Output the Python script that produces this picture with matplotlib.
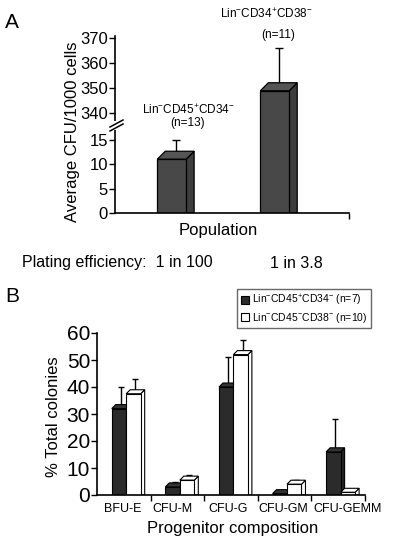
import numpy as np
import matplotlib
matplotlib.use("Agg")
import matplotlib.pyplot as plt
from matplotlib.patches import Polygon, Patch, Rectangle
from matplotlib.lines import Line2D

plt.rcParams['font.family'] = ['Liberation Sans', 'DejaVu Sans']
plt.rcParams['mathtext.fontset'] = 'custom'
plt.rcParams['mathtext.rm'] = 'Liberation Sans'
plt.rcParams['mathtext.it'] = 'Liberation Sans'
plt.rcParams['mathtext.bf'] = 'Liberation Sans'

# ---------------- data ----------------
# Panel A
pop_labels = [r'Lin$^{-}$CD45$^{+}$CD34$^{-}$', r'Lin$^{-}$CD34$^{+}$CD38$^{-}$']
pop_n = ['(n=13)', '(n=11)']
pop_values = [11, 349]
pop_err = [4, 17]
plating = ['1 in 100', '1 in 3.8']
a_low_ticks = [0, 5, 10, 15]
a_high_ticks = [340, 350, 360, 370]

# Panel B
categories = ['BFU-E', 'CFU-M', 'CFU-G', 'CFU-GM', 'CFU-GEMM']
series_names = [r'Lin$^{-}$CD45$^{+}$CD34$^{-}$ (n=7)', r'Lin$^{-}$CD45$^{-}$CD38$^{-}$ (n=10)']
dark_values = [32, 3, 40, 0.5, 16]
dark_err = [8, 2, 11, 0, 12]
white_values = [37.5, 5.5, 52, 4, 1]
white_err = [5.5, 2, 5.5, 1.5, 0.5]
b_ticks = [0, 10, 20, 30, 40, 50, 60]

W, H = 400, 553
fig = plt.figure(figsize=(W / 100, H / 100), dpi=100)


def rect(l, t, r, b):
    return [l / W, 1 - b / H, (r - l) / W, (b - t) / H]


def shift(ax, x, y, dx, dy):
    p = ax.transData.transform((x, y))
    return ax.transData.inverted().transform(p + np.array([dx, dy]))


def bar3d(ax, xc, h, w, d, fc, sc, tc, ec='black', lw=0.8, z=2):
    x0, x1 = xc - w / 2, xc + w / 2
    front = [(x0, 0), (x1, 0), (x1, h), (x0, h)]
    side = [(x1, 0), (x1, h), tuple(shift(ax, x1, h, d, d)), tuple(shift(ax, x1, 0, d, 0))]
    top = [(x0, h), (x1, h), tuple(shift(ax, x1, h, d, d)), tuple(shift(ax, x0, h, d, d))]
    for verts, c in ((side, sc), (top, tc), (front, fc)):
        ax.add_patch(Polygon(verts, closed=True, facecolor=c, edgecolor=ec,
                             linewidth=lw, joinstyle='miter', zorder=z))


def errup(ax, xc, h, err, d, capw=3, lw=1.0):
    if err <= 0:
        return
    sx, sy = shift(ax, xc, h, d / 2, d / 2)
    sy = min(sy, h + err)
    ax.errorbar([sx], [sy], yerr=[[0], [max(h + err - sy, 0)]], fmt='none', ecolor='black',
                elinewidth=lw, capsize=capw, capthick=lw, zorder=1)


# ---------------- Panel A ----------------
axL = fig.add_axes(rect(115, 126, 349, 213))
axU = fig.add_axes(rect(115, 36, 349, 126))
xpos = [1, 2]
for ax in (axL, axU):
    ax.set_xlim(0.45, 2.72)
    ax.patch.set_visible(False)
    for s in ('top', 'right'):
        ax.spines[s].set_visible(False)
    ax.spines['left'].set_linewidth(1.2)
    ax.spines['bottom'].set_linewidth(1.2)
    ax.tick_params(axis='y', direction='out', length=4, width=1.0, labelsize=12, pad=1)
axL.set_ylim(0, 17.8)
axU.set_ylim(334.9, 370.9)
axL.set_yticks(a_low_ticks)
axU.set_yticks(a_high_ticks)
axU.spines['bottom'].set_visible(False)
axU.set_xticks([])
axL.set_xticks([2.72])
axL.set_xticklabels([])
axL.tick_params(axis='x', direction='out', length=4, width=1.0)

depthA = 8
for ax in (axL, axU):
    for x, v, e in zip(xpos, pop_values, pop_err):
        bar3d(ax, x, v, 0.28, depthA, '#484848', '#3e3e3e', '#555555', lw=0.9)
        errup(ax, x, v, e, depthA)

fig.text(188 / W, 1 - 110 / H, pop_labels[0], ha='center', va='center', fontsize=8.5)
fig.text(188 / W, 1 - 123 / H, pop_n[0], ha='center', va='center', fontsize=8.5)
fig.text(266 / W, 1 - 14 / H, pop_labels[1], ha='center', va='center', fontsize=8.5)
fig.text(278 / W, 1 - 35 / H, pop_n[1], ha='center', va='center', fontsize=8.5)

fig.text(73 / W, 1 - 132 / H, 'Average CFU/1000 cells', rotation=90, ha='center',
         va='center', fontsize=12)
fig.text(218 / W, 1 - 231 / H, 'Population', ha='center', va='center', fontsize=12)
fig.text(22 / W, 1 - 263 / H, 'Plating efficiency:  ' + plating[0], ha='left',
         va='center', fontsize=11.5)
fig.text(270 / W, 1 - 263 / H, plating[1], ha='left', va='center', fontsize=11.5)
fig.text(5 / W, 1 - 23 / H, 'A', ha='left', va='center', fontsize=15)

# gap in the y spine and break marks
fig.add_artist(Rectangle((112 / W, 1 - 130 / H), 6 / W, 9 / H, facecolor='white',
                         edgecolor='none', zorder=5))
for off in (0, 4):
    fig.add_artist(Line2D([110 / W, 123 / W], [1 - (131 - off) / H, 1 - (124 - off) / H],
                          color='black', linewidth=1.1, zorder=6))

# ---------------- Panel B ----------------
axB = fig.add_axes(rect(97, 333, 365, 495))
axB.set_xlim(0, 5)
axB.set_ylim(0, 60)
for s in ('top', 'right'):
    axB.spines[s].set_visible(False)
axB.spines['left'].set_linewidth(1.2)
axB.spines['bottom'].set_linewidth(1.2)
axB.set_yticks(b_ticks)
axB.tick_params(axis='y', direction='out', length=4, width=1.0, labelsize=15, pad=1)
axB.set_xticks([1, 2, 3, 4, 5])
axB.set_xticklabels([])
axB.tick_params(axis='x', which='major', direction='out', length=4, width=1.0)
axB.set_xticks([0.48, 1.4, 2.45, 3.47, 4.68], minor=True)
axB.set_xticklabels(categories, minor=True, fontsize=9)
axB.tick_params(axis='x', which='minor', length=0, pad=6)

depthB = 4
wB = 0.27
for i in range(len(categories)):
    xd = i + 0.41
    xw = i + 0.68
    bar3d(axB, xd, dark_values[i], wB, depthB, '#2b2b2b', '#222222', '#333333', lw=0.8)
    errup(axB, xd, dark_values[i], dark_err[i], depthB, capw=2.5)
    bar3d(axB, xw, white_values[i], wB, depthB, 'white', 'white', 'white', lw=0.8)
    errup(axB, xw, white_values[i], white_err[i], depthB, capw=2.5)

fig.text(53 / W, 1 - 417 / H, '% Total colonies', rotation=90, ha='center', va='center',
         fontsize=12)
fig.text(233 / W, 1 - 528 / H, 'Progenitor composition', ha='center', va='center',
         fontsize=12)
fig.text(5 / W, 1 - 296 / H, 'B', ha='left', va='center', fontsize=15)

handles = [Patch(facecolor='#2b2b2b', edgecolor='black', linewidth=0.8),
           Patch(facecolor='white', edgecolor='black', linewidth=0.8)]
leg = fig.legend(handles, series_names, loc='upper right',
                 bbox_to_anchor=(371 / W, 1 - 289 / H), fontsize=7.5, frameon=True,
                 fancybox=False, handlelength=0.8, handleheight=0.8, handletextpad=0.3,
                 borderpad=0.35, labelspacing=0.25, borderaxespad=0)
leg.get_frame().set_edgecolor('#444444')
leg.get_frame().set_linewidth(1.0)

fig.savefig('out.png', dpi=100)
